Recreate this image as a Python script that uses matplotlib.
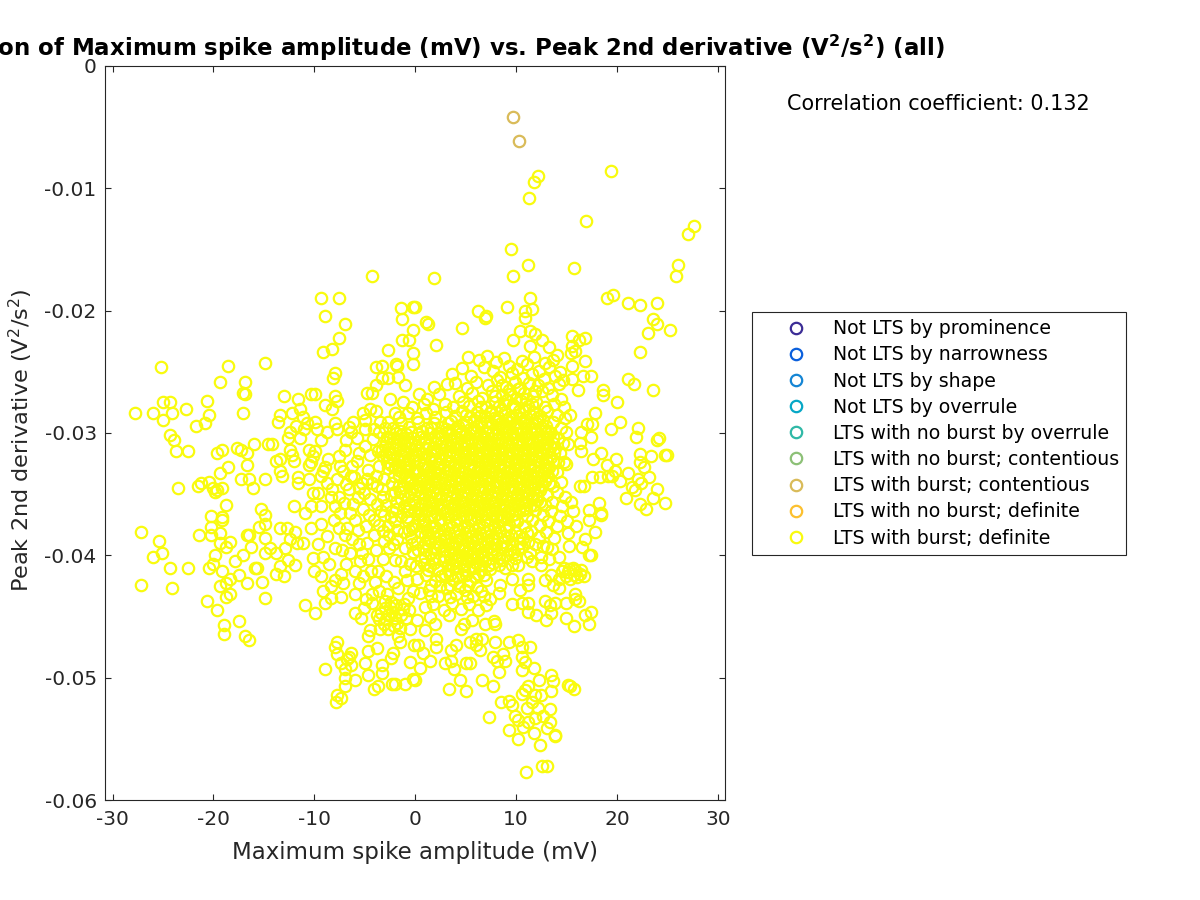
#!/usr/bin/env python
# -*- coding: utf-8 -*-
import numpy as np
import matplotlib
matplotlib.use('Agg')
import matplotlib.pyplot as plt

labels = ['Not LTS by prominence', 'Not LTS by narrowness', 'Not LTS by shape',
          'Not LTS by overrule', 'LTS with no burst by overrule',
          'LTS with no burst; contentious', 'LTS with burst; contentious',
          'LTS with no burst; definite', 'LTS with burst; definite']
colors = ['#3B2C95', '#0A5FDC', '#1485D4', '#06A7C6', '#2FB8A6',
          '#8CC076', '#D9BB59', '#FCC02E', '#F9FB0E']

contentious = [(9.7, -0.0042), (10.3, -0.0061)]

# sparse points around the edge of the cloud, upper right
upper_right = [
    (12.2, -0.0090), (11.8, -0.0095), (11.3, -0.0108), (19.4, -0.0086), (16.9, -0.0127),
    (27.6, -0.0131), (27.0, -0.0137), (9.5, -0.0150), (11.2, -0.0163), (9.7, -0.0172),
    (15.7, -0.0165), (26.0, -0.0163), (25.8, -0.0172), (1.9, -0.0173), (11.4, -0.0190),
    (11.6, -0.0199), (10.9, -0.0200), (10.9, -0.0206), (9.1, -0.0197), (6.2, -0.0200),
    (7.0, -0.0204), (6.9, -0.0206), (19.0, -0.0190), (19.6, -0.0187), (21.1, -0.0194),
    (22.3, -0.0195), (24.0, -0.0194), (23.6, -0.0207), (24.0, -0.0211), (23.1, -0.0218),
    (25.2, -0.0216), (4.6, -0.0214), (2.1, -0.0228), (1.1, -0.0209), (1.3, -0.0211),
    (0.0, -0.0197), (9.7, -0.0224), (10.4, -0.0217), (11.4, -0.0217), (11.9, -0.0219),
    (12.6, -0.0224), (11.4, -0.0229), (13.3, -0.0230), (14.0, -0.0236), (15.5, -0.0221),
    (16.2, -0.0224), (16.8, -0.0222), (15.5, -0.0229), (15.8, -0.0233), (15.4, -0.0235),
    (15.5, -0.0245), (16.8, -0.0241), (16.6, -0.0253), (17.4, -0.0253), (15.5, -0.0256),
    (16.1, -0.0265), (22.3, -0.0234), (21.1, -0.0256), (21.7, -0.0260), (23.6, -0.0265),
    (18.6, -0.0265), (18.6, -0.0269), (20.0, -0.0275), (17.8, -0.0284), (20.3, -0.0291),
    (19.4, -0.0297), (17.5, -0.0293), (17.0, -0.0293), (16.4, -0.0299), (17.4, -0.0303),
    (15.3, -0.0285), (22.1, -0.0296), (21.9, -0.0303), (24.2, -0.0304), (24.0, -0.0306),
    (18.4, -0.0316), (17.6, -0.0321), (19.9, -0.0321), (19.0, -0.0326), (19.8, -0.0331),
    (22.3, -0.0317), (23.4, -0.0319), (22.3, -0.0324), (22.7, -0.0328), (24.8, -0.0318),
    (25.0, -0.0318), (16.4, -0.0315), (16.3, -0.0308), (15.1, -0.0309), (14.9, -0.0299),
    (14.7, -0.0324), (14.9, -0.0325), (17.5, -0.0336), (18.3, -0.0336), (19.1, -0.0335),
    (19.5, -0.0335), (20.3, -0.0339), (21.1, -0.0333), (23.2, -0.0336), (22.1, -0.0338),
    (21.5, -0.0344), (22.4, -0.0341), (21.8, -0.0347), (24.0, -0.0346), (20.9, -0.0353),
    (23.6, -0.0353), (22.3, -0.0358), (22.9, -0.0362), (24.8, -0.0357), (18.2, -0.0357),
    (17.2, -0.0363), (18.4, -0.0365), (16.7, -0.0343), (16.3, -0.0343),
]

upper_left = [
    (-4.3, -0.0172), (-9.3, -0.0190), (-7.6, -0.0190), (-8.9, -0.0204), (-7.0, -0.0211),
    (-1.4, -0.0198), (-0.2, -0.0197), (-1.3, -0.0207), (-7.6, -0.0222), (-8.3, -0.0231),
    (-9.1, -0.0234), (-1.3, -0.0224), (-0.6, -0.0224), (-0.2, -0.0216), (-2.7, -0.0232),
    (-0.2, -0.0235), (-14.9, -0.0243), (-18.6, -0.0245), (-25.2, -0.0246), (-3.9, -0.0246),
    (-3.3, -0.0245), (-1.9, -0.0244), (-1.8, -0.0245), (-0.2, -0.0244), (-8.0, -0.0251),
    (-8.2, -0.0255), (-19.4, -0.0258), (-16.9, -0.0258), (-17.1, -0.0267), (-16.9, -0.0268),
    (-13.0, -0.0270), (-11.6, -0.0272), (-10.3, -0.0268), (-9.9, -0.0268), (-8.0, -0.0270),
    (-7.8, -0.0274), (-8.9, -0.0277), (-8.3, -0.0280), (-20.6, -0.0274), (-25.0, -0.0275),
    (-24.3, -0.0275), (-22.7, -0.0280), (-27.8, -0.0284), (-26.0, -0.0284), (-24.1, -0.0284),
    (-25.0, -0.0289), (-20.4, -0.0285), (-20.8, -0.0292), (-21.7, -0.0294), (-17.1, -0.0284),
    (-24.3, -0.0302), (-23.9, -0.0306), (-23.7, -0.0315), (-22.5, -0.0315), (-13.4, -0.0285),
    (-13.6, -0.0291), (-12.2, -0.0284), (-11.4, -0.0280), (-11.1, -0.0287), (-11.8, -0.0294),
    (-10.7, -0.0292), (-9.9, -0.0291), (-11.0, -0.0297), (-9.7, -0.0297), (-12.4, -0.0299),
    (-12.6, -0.0304), (-11.4, -0.0304), (-9.3, -0.0306), (-8.7, -0.0299), (-8.0, -0.0292),
    (-7.8, -0.0297), (-6.4, -0.0299), (-6.6, -0.0295), (-6.2, -0.0291), (-5.2, -0.0284),
    (-4.5, -0.0280), (-3.9, -0.0282), (-5.0, -0.0289), (-5.0, -0.0297), (-4.1, -0.0297),
    (-3.5, -0.0291), (-2.7, -0.0291), (-2.0, -0.0284), (-4.8, -0.0267), (-4.3, -0.0267),
    (-3.9, -0.0261), (-3.3, -0.0255), (-2.7, -0.0255), (-1.7, -0.0254), (-1.0, -0.0261),
    (-2.5, -0.0272), (-1.2, -0.0275), (-16.0, -0.0309), (-17.7, -0.0312), (-17.3, -0.0314),
    (-16.7, -0.0316), (-19.6, -0.0316), (-19.2, -0.0314), (-14.6, -0.0309), (-14.2, -0.0309),
    (-12.4, -0.0314), (-12.2, -0.0318), (-12.0, -0.0323), (-13.4, -0.0321), (-13.8, -0.0323),
    (-13.4, -0.0331), (-13.2, -0.0335), (-10.5, -0.0314), (-9.9, -0.0315), (-10.1, -0.0319),
    (-10.3, -0.0324), (-10.5, -0.0326), (-9.1, -0.0331), (-9.3, -0.0335), (-10.5, -0.0338),
    (-11.6, -0.0336), (-11.6, -0.0341), (-16.7, -0.0326), (-18.6, -0.0328), (-19.4, -0.0333),
    (-17.3, -0.0338), (-16.5, -0.0338), (-16.1, -0.0345), (-14.9, -0.0338), (-23.5, -0.0345),
    (-21.5, -0.0343), (-21.2, -0.0341), (-20.4, -0.0340), (-20.0, -0.0345), (-19.2, -0.0345),
    (-19.8, -0.0348), (-19.6, -0.0347), (-18.8, -0.0359), (-15.3, -0.0362), (-14.9, -0.0367),
    (-20.2, -0.0368), (-19.2, -0.0369), (-12.0, -0.0360), (-7.6, -0.0319), (-7.0, -0.0314),
    (-5.6, -0.0316), (-7.2, -0.0331), (-6.3, -0.0327), (-4.5, -0.0318), (-3.7, -0.0315),
    (-10.1, -0.0349), (-9.6, -0.0349), (-10.3, -0.0360), (-10.9, -0.0365), (-8.3, -0.0346),
    (-7.6, -0.0352), (-6.6, -0.0346), (-5.7, -0.0352), (-9.3, -0.0360), (-8.0, -0.0360),
    (-6.5, -0.0365), (-4.7, -0.0330), (-4.3, -0.0341), (-5.3, -0.0341), (-3.3, -0.0346),
    (-2.3, -0.0341),
]

lower_left = [
    (-27.2, -0.0381), (-25.4, -0.0388), (-25.1, -0.0398), (-26.0, -0.0401), (-24.3, -0.0410),
    (-22.5, -0.0410), (-27.2, -0.0424), (-24.1, -0.0427), (-21.4, -0.0383), (-20.2, -0.0383),
    (-20.2, -0.0377), (-19.2, -0.0371), (-19.4, -0.0382), (-16.7, -0.0383), (-16.5, -0.0383),
    (-15.5, -0.0377), (-14.9, -0.0374), (-19.4, -0.0390), (-18.4, -0.0389), (-18.8, -0.0393),
    (-16.3, -0.0393), (-14.9, -0.0386), (-19.8, -0.0400), (-17.1, -0.0400), (-17.9, -0.0405),
    (-20.0, -0.0407), (-20.4, -0.0410), (-19.2, -0.0413), (-17.5, -0.0416), (-18.4, -0.0419),
    (-19.4, -0.0425), (-18.8, -0.0423), (-16.7, -0.0423), (-15.2, -0.0422), (-18.4, -0.0432),
    (-18.8, -0.0434), (-20.6, -0.0437), (-19.6, -0.0445), (-14.9, -0.0435), (-17.5, -0.0454),
    (-19.0, -0.0457), (-19.0, -0.0464), (-16.9, -0.0466), (-16.5, -0.0469), (-15.7, -0.0410),
    (-15.9, -0.0410), (-14.9, -0.0398), (-14.4, -0.0394), (-13.8, -0.0398), (-13.4, -0.0378),
    (-12.7, -0.0378), (-11.9, -0.0381), (-12.4, -0.0387), (-11.7, -0.0390), (-11.1, -0.0390),
    (-12.9, -0.0394), (-13.4, -0.0409), (-13.8, -0.0415), (-13.0, -0.0417), (-11.9, -0.0408),
    (-12.6, -0.0404), (-10.3, -0.0378), (-9.3, -0.0374), (-9.6, -0.0391), (-10.1, -0.0402),
    (-9.1, -0.0401), (-10.0, -0.0413), (-9.3, -0.0417), (-8.5, -0.0407), (-8.0, -0.0420),
    (-8.4, -0.0425), (-9.1, -0.0429), (-8.4, -0.0435), (-8.9, -0.0439), (-7.4, -0.0434),
    (-10.9, -0.0441), (-9.9, -0.0447), (-6.0, -0.0432), (-6.0, -0.0447), (-5.4, -0.0451),
    (-6.0, -0.0413), (-5.2, -0.0417), (-7.3, -0.0396), (-8.0, -0.0394), (-6.3, -0.0387),
    (-5.7, -0.0379), (-7.6, -0.0378), (-6.8, -0.0378), (-7.8, -0.0471), (-8.0, -0.0475),
    (-7.8, -0.0481), (-6.4, -0.0480), (-6.6, -0.0483), (-6.8, -0.0485), (-7.4, -0.0488),
    (-6.4, -0.0490), (-8.9, -0.0493), (-7.0, -0.0493), (-7.0, -0.0500), (-7.0, -0.0507),
    (-6.0, -0.0502), (-5.0, -0.0488), (-4.7, -0.0478), (-4.7, -0.0498), (-4.1, -0.0509),
    (-3.7, -0.0507), (-2.3, -0.0505), (-2.0, -0.0505), (-1.0, -0.0505), (-0.2, -0.0501),
    (-3.3, -0.0490), (-3.3, -0.0496), (-7.8, -0.0514), (-7.4, -0.0517), (-7.9, -0.0520),
    (-4.7, -0.0466), (-4.5, -0.0461), (-3.8, -0.0476), (-2.4, -0.0484), (-2.2, -0.0480),
    (-1.5, -0.0471), (-1.7, -0.0466), (-0.5, -0.0460), (-0.5, -0.0487), (-0.1, -0.0473),
    (-4.3, -0.0432), (-4.3, -0.0439), (-3.8, -0.0449), (-3.5, -0.0460), (-3.0, -0.0443),
    (-2.4, -0.0438), (-2.0, -0.0451), (-2.7, -0.0460), (-1.4, -0.0449), (-0.7, -0.0435),
    (-0.9, -0.0451), (-2.8, -0.0432), (-1.7, -0.0427), (-5.3, -0.0398), (-3.7, -0.0413),
    (-4.4, -0.0413), (-1.0, -0.0413), (-1.0, -0.0394), (-2.6, -0.0394), (-4.1, -0.0383),
    (-2.6, -0.0383), (-1.1, -0.0381), (-3.6, -0.0375), (-2.0, -0.0372), (-0.7, -0.0372),
    (-3.4, -0.0447), (-2.9, -0.0452), (-2.3, -0.0446), (-1.8, -0.0455), (-1.2, -0.0444),
    (-3.1, -0.0456), (-2.5, -0.0442), (-1.5, -0.0459), (-3.6, -0.0452), (-2.1, -0.0458),
    (-3.0, -0.0437), (-1.1, -0.0440), (-0.6, -0.0445), (-2.7, -0.0449), (-1.9, -0.0441),
]

lower_right = [
    (11.0, -0.0577), (12.6, -0.0572), (13.1, -0.0572), (7.3, -0.0532), (12.4, -0.0555),
    (10.2, -0.0550), (9.3, -0.0543), (13.9, -0.0547), (13.9, -0.0548), (11.8, -0.0545),
    (13.1, -0.0541), (13.4, -0.0536), (10.7, -0.0540), (9.9, -0.0531), (10.2, -0.0535),
    (11.2, -0.0536), (11.9, -0.0533), (12.7, -0.0531), (13.4, -0.0526), (11.1, -0.0525),
    (9.6, -0.0522), (9.3, -0.0519), (8.5, -0.0520), (12.2, -0.0525), (11.6, -0.0520),
    (10.6, -0.0513), (11.2, -0.0507), (11.9, -0.0514), (12.5, -0.0514), (10.9, -0.0510),
    (12.3, -0.0502), (13.5, -0.0498), (13.7, -0.0503), (13.5, -0.0511), (15.1, -0.0506),
    (15.3, -0.0507), (15.7, -0.0509), (11.8, -0.0492), (11.4, -0.0475), (10.2, -0.0469),
    (9.3, -0.0471), (10.6, -0.0475), (10.6, -0.0483), (10.9, -0.0487), (10.6, -0.0494),
    (7.9, -0.0471), (8.7, -0.0481), (8.9, -0.0486), (7.7, -0.0483), (8.1, -0.0486),
    (8.3, -0.0495), (6.6, -0.0468), (6.0, -0.0468), (5.4, -0.0471), (6.0, -0.0473),
    (6.4, -0.0477), (4.0, -0.0473), (3.5, -0.0477), (2.1, -0.0468), (2.1, -0.0475),
    (1.5, -0.0486), (0.8, -0.0480), (0.3, -0.0473), (0.5, -0.0492), (0.0, -0.0502),
    (2.9, -0.0488), (3.5, -0.0486), (3.8, -0.0493), (5.0, -0.0488), (5.4, -0.0488),
    (4.4, -0.0502), (3.3, -0.0509), (5.0, -0.0511), (6.6, -0.0502), (7.7, -0.0507),
    (17.2, -0.0456), (15.7, -0.0458), (17.4, -0.0446), (16.8, -0.0449), (14.9, -0.0451),
    (13.0, -0.0453), (12.0, -0.0449), (11.2, -0.0446), (13.5, -0.0447), (7.9, -0.0456),
    (7.8, -0.0454), (6.9, -0.0456), (4.5, -0.0460), (4.8, -0.0456), (5.6, -0.0453),
    (1.0, -0.0461), (2.0, -0.0456), (0.2, -0.0453), (1.5, -0.0450), (3.3, -0.0449),
    (9.6, -0.0440), (11.2, -0.0439), (10.6, -0.0439), (12.9, -0.0437), (13.4, -0.0441),
    (13.9, -0.0439), (14.9, -0.0439), (15.8, -0.0436), (16.2, -0.0437), (15.8, -0.0432),
    (14.2, -0.0427), (13.7, -0.0424), (12.9, -0.0420), (13.5, -0.0416), (14.5, -0.0413),
    (15.2, -0.0411), (15.8, -0.0412), (16.7, -0.0417), (16.3, -0.0415), (15.7, -0.0416),
    (14.9, -0.0417), (14.2, -0.0419), (15.3, -0.0419), (17.2, -0.0400), (17.4, -0.0400),
    (17.8, -0.0381), (16.8, -0.0387), (16.5, -0.0393), (18.4, -0.0367), (17.2, -0.0371),
    (9.6, -0.0419), (11.2, -0.0419), (11.2, -0.0424), (10.4, -0.0428), (8.4, -0.0424),
    (8.3, -0.0431), (7.4, -0.0436), (7.3, -0.0408), (8.3, -0.0408), (9.6, -0.0408),
    (12.5, -0.0408), (14.2, -0.0401), (12.5, -0.0401), (11.1, -0.0401), (15.1, -0.0414),
    (14.7, -0.0410), (15.6, -0.0410), (16.0, -0.0418), (16.4, -0.0412),
]

# dense middle of the cloud, read band by band
center = [
    (5.2, -0.0238), (6.3, -0.0240), (7.1, -0.0237), (8.0, -0.0242), (8.8, -0.0239),
    (10.6, -0.0241), (11.8, -0.0238), (12.9, -0.0243), (13.7, -0.0240), (4.6, -0.0247),
    (6.8, -0.0246), (7.7, -0.0249), (9.3, -0.0245), (10.1, -0.0248), (11.1, -0.0244),
    (12.3, -0.0249), (13.3, -0.0246), (14.3, -0.0250), (3.6, -0.0252), (5.5, -0.0253),
    (8.4, -0.0254), (9.6, -0.0251), (10.7, -0.0255), (11.6, -0.0252), (12.8, -0.0256),
    (13.9, -0.0253), (14.6, -0.0257), (1.9, -0.0262), (3.1, -0.0260), (3.9, -0.0259),
    (5.1, -0.0263), (6.0, -0.0258), (7.2, -0.0261), (8.1, -0.0257), (9.0, -0.0262),
    (9.9, -0.0258), (10.4, -0.0263), (11.3, -0.0259), (12.2, -0.0261), (13.2, -0.0263),
    (14.2, -0.0260), (0.4, -0.0268), (1.2, -0.0272), (2.4, -0.0268), (4.3, -0.0270),
    (5.6, -0.0267), (6.6, -0.0271), (7.6, -0.0266), (8.6, -0.0269), (9.3, -0.0265),
    (10.0, -0.0271), (10.8, -0.0267), (11.7, -0.0270), (12.6, -0.0266), (13.6, -0.0269),
    (14.4, -0.0272), (-0.3, -0.0279), (0.9, -0.0276), (1.8, -0.0280), (2.9, -0.0276),
    (3.7, -0.0279), (4.7, -0.0275), (5.3, -0.0278), (6.2, -0.0274), (7.0, -0.0279),
    (7.9, -0.0275), (8.3, -0.0278), (9.1, -0.0273), (9.7, -0.0277), (10.5, -0.0274),
    (11.2, -0.0278), (12.0, -0.0275), (12.9, -0.0279), (13.8, -0.0276), (14.7, -0.0279),
    (-1.6, -0.0287), (-0.7, -0.0284), (0.2, -0.0288), (1.1, -0.0284), (2.0, -0.0287),
    (3.0, -0.0283), (3.9, -0.0286), (4.6, -0.0282), (5.4, -0.0287), (6.1, -0.0283),
    (6.9, -0.0286), (7.5, -0.0282), (8.2, -0.0287), (8.9, -0.0283), (9.6, -0.0286),
    (10.3, -0.0282), (11.0, -0.0287), (11.7, -0.0283), (12.4, -0.0286), (13.1, -0.0282),
    (14.0, -0.0285), (14.8, -0.0288), (-2.2, -0.0296), (-1.4, -0.0292), (-0.6, -0.0295),
    (0.3, -0.0291), (1.2, -0.0296), (1.9, -0.0292), (2.7, -0.0295), (3.5, -0.0290),
    (4.2, -0.0294), (5.0, -0.0291), (5.8, -0.0296), (6.5, -0.0292), (7.3, -0.0295),
    (8.0, -0.0290), (8.7, -0.0294), (9.4, -0.0291), (10.1, -0.0296), (10.8, -0.0292),
    (11.5, -0.0295), (12.2, -0.0290), (13.0, -0.0294), (13.7, -0.0291), (14.4, -0.0296),
    (-2.8, -0.0303), (-1.9, -0.0300), (-1.1, -0.0304), (-0.4, -0.0299), (0.6, -0.0303),
    (1.5, -0.0300), (2.3, -0.0304), (3.1, -0.0299), (3.8, -0.0303), (4.5, -0.0300),
    (5.3, -0.0304), (6.0, -0.0299), (6.8, -0.0303), (7.6, -0.0300), (8.3, -0.0304),
    (9.0, -0.0299), (9.8, -0.0303), (10.5, -0.0300), (11.3, -0.0304), (12.0, -0.0299),
    (12.7, -0.0303), (13.4, -0.0300), (14.1, -0.0304), (-3.0, -0.0311), (-2.2, -0.0308),
    (-1.5, -0.0312), (-0.8, -0.0307), (0.1, -0.0311), (1.0, -0.0308), (1.8, -0.0312),
    (2.6, -0.0307), (3.4, -0.0311), (4.1, -0.0308), (4.9, -0.0312), (5.6, -0.0307),
    (6.4, -0.0311), (7.2, -0.0308), (7.9, -0.0312), (8.6, -0.0307), (9.3, -0.0311),
    (10.1, -0.0308), (10.9, -0.0312), (11.6, -0.0307), (12.3, -0.0311), (13.1, -0.0308),
    (13.9, -0.0312), (14.6, -0.0308), (-3.2, -0.0319), (-2.5, -0.0316), (-1.8, -0.0320),
    (-1.0, -0.0315), (-0.2, -0.0319), (0.7, -0.0316), (1.4, -0.0320), (2.2, -0.0315),
    (3.0, -0.0319), (3.7, -0.0316), (4.4, -0.0320), (5.2, -0.0315), (6.0, -0.0319),
    (6.7, -0.0316), (7.5, -0.0320), (8.2, -0.0315), (9.0, -0.0319), (9.7, -0.0316),
    (10.5, -0.0320), (11.2, -0.0315), (12.0, -0.0319), (12.7, -0.0316), (13.5, -0.0320),
    (14.3, -0.0316), (-3.6, -0.0327), (-2.8, -0.0324), (-2.0, -0.0328), (-1.2, -0.0323),
    (-0.5, -0.0327), (0.4, -0.0324), (1.2, -0.0328), (2.0, -0.0323), (2.8, -0.0327),
    (3.5, -0.0324), (4.3, -0.0328), (5.0, -0.0323), (5.8, -0.0327), (6.6, -0.0324),
    (7.3, -0.0328), (8.0, -0.0323), (8.8, -0.0327), (9.5, -0.0324), (10.3, -0.0328),
    (11.0, -0.0323), (11.8, -0.0327), (12.5, -0.0324), (13.3, -0.0328), (14.1, -0.0324),
    (-2.1, -0.0335), (-1.3, -0.0332), (-0.5, -0.0336), (0.3, -0.0331), (1.1, -0.0335),
    (1.9, -0.0332), (2.7, -0.0336), (3.4, -0.0331), (4.2, -0.0335), (4.9, -0.0332),
    (5.7, -0.0336), (6.5, -0.0331), (7.2, -0.0335), (8.0, -0.0332), (8.7, -0.0336),
    (9.5, -0.0331), (10.2, -0.0335), (11.0, -0.0332), (11.8, -0.0336), (12.5, -0.0331),
    (13.2, -0.0335), (14.0, -0.0332), (-1.6, -0.0343), (-0.8, -0.0340), (0.0, -0.0344),
    (0.8, -0.0339), (1.6, -0.0343), (2.4, -0.0340), (3.1, -0.0344), (3.9, -0.0339),
    (4.6, -0.0343), (5.4, -0.0340), (6.2, -0.0344), (6.9, -0.0339), (7.7, -0.0343),
    (8.4, -0.0340), (9.2, -0.0344), (9.9, -0.0339), (10.7, -0.0343), (11.5, -0.0340),
    (12.2, -0.0344), (12.9, -0.0339), (13.7, -0.0343), (14.4, -0.0340), (-2.4, -0.0351),
    (-1.5, -0.0348), (-0.7, -0.0352), (0.2, -0.0347), (1.0, -0.0351), (1.8, -0.0348),
    (2.6, -0.0352), (3.3, -0.0347), (4.1, -0.0351), (4.9, -0.0348), (5.6, -0.0352),
    (6.4, -0.0347), (7.1, -0.0351), (7.9, -0.0348), (8.6, -0.0352), (9.4, -0.0347),
    (10.1, -0.0351), (10.9, -0.0348), (11.7, -0.0352), (12.4, -0.0347), (13.1, -0.0351),
    (14.0, -0.0348), (14.8, -0.0352), (-2.9, -0.0359), (-1.9, -0.0356), (-1.1, -0.0360),
    (-0.2, -0.0355), (0.6, -0.0359), (1.4, -0.0356), (2.2, -0.0360), (3.0, -0.0355),
    (3.8, -0.0359), (4.5, -0.0356), (5.3, -0.0360), (6.1, -0.0355), (6.8, -0.0359),
    (7.6, -0.0356), (8.3, -0.0360), (9.1, -0.0355), (9.8, -0.0359), (10.6, -0.0356),
    (11.4, -0.0360), (12.1, -0.0355), (12.9, -0.0359), (13.6, -0.0356), (14.5, -0.0360),
    (15.4, -0.0356), (-3.1, -0.0367), (-2.3, -0.0364), (-1.4, -0.0368), (-0.6, -0.0363),
    (0.3, -0.0367), (1.1, -0.0364), (1.9, -0.0368), (2.7, -0.0363), (3.5, -0.0367),
    (4.3, -0.0364), (5.0, -0.0368), (5.8, -0.0363), (6.5, -0.0367), (7.3, -0.0364),
    (8.1, -0.0368), (8.8, -0.0363), (9.6, -0.0367), (10.3, -0.0364), (11.1, -0.0368),
    (11.9, -0.0363), (12.7, -0.0367), (13.5, -0.0364), (14.3, -0.0368), (15.6, -0.0364),
    (-2.7, -0.0376), (0.0, -0.0375), (0.9, -0.0372), (1.7, -0.0376), (2.5, -0.0371),
    (3.3, -0.0375), (4.0, -0.0372), (4.8, -0.0376), (5.5, -0.0371), (6.3, -0.0375),
    (7.1, -0.0372), (7.8, -0.0376), (8.6, -0.0371), (9.3, -0.0375), (10.1, -0.0372),
    (10.9, -0.0376), (11.6, -0.0371), (12.4, -0.0375), (13.2, -0.0372), (14.0, -0.0376),
    (15.0, -0.0372), (15.9, -0.0376), (-1.8, -0.0387), (-0.4, -0.0385), (0.5, -0.0381),
    (1.3, -0.0386), (2.2, -0.0380), (3.0, -0.0385), (3.8, -0.0381), (4.6, -0.0386),
    (5.3, -0.0380), (6.1, -0.0385), (6.9, -0.0381), (7.6, -0.0386), (8.4, -0.0380),
    (9.2, -0.0385), (9.9, -0.0381), (10.7, -0.0386), (11.5, -0.0380), (12.3, -0.0385),
    (13.0, -0.0381), (13.8, -0.0386), (15.1, -0.0382), (-0.2, -0.0397), (0.8, -0.0393),
    (1.6, -0.0398), (2.5, -0.0392), (3.4, -0.0397), (4.2, -0.0393), (5.0, -0.0398),
    (5.8, -0.0392), (6.6, -0.0397), (7.4, -0.0393), (8.1, -0.0398), (9.0, -0.0392),
    (9.8, -0.0397), (10.6, -0.0393), (11.4, -0.0398), (13.1, -0.0393), (15.2, -0.0392),
    (-0.5, -0.0407), (0.6, -0.0404), (1.5, -0.0409), (2.4, -0.0403), (3.2, -0.0408),
    (4.0, -0.0404), (4.8, -0.0409), (5.6, -0.0403), (6.4, -0.0408), (0.2, -0.0419),
    (1.1, -0.0416), (2.0, -0.0421), (2.9, -0.0415), (3.7, -0.0420), (4.6, -0.0416),
    (5.4, -0.0421), (6.2, -0.0415), (7.0, -0.0420), (0.5, -0.0431), (1.4, -0.0428),
    (2.3, -0.0433), (3.1, -0.0427), (4.0, -0.0432), (4.9, -0.0428), (5.7, -0.0433),
    (6.5, -0.0429), (1.0, -0.0442), (1.8, -0.0440), (2.8, -0.0445), (3.6, -0.0439),
    (4.5, -0.0444), (5.3, -0.0440), (6.2, -0.0445), (7.0, -0.0441),
]

# the solid part, where single rings can no longer be told apart
solid_core = [
    (8.6, -0.0261), (9.4, -0.0268), (10.2, -0.0264), (11.0, -0.0272), (11.9, -0.0266),
    (7.9, -0.0270), (8.8, -0.0276), (9.9, -0.0279), (10.9, -0.0280), (11.6, -0.0276),
    (6.5, -0.0279), (7.4, -0.0284), (8.5, -0.0281), (9.3, -0.0288), (10.0, -0.0285),
    (10.7, -0.0290), (11.4, -0.0285), (12.1, -0.0288), (5.0, -0.0285), (5.8, -0.0289),
    (6.4, -0.0286), (7.1, -0.0290), (7.8, -0.0288), (8.5, -0.0292), (9.1, -0.0289),
    (9.9, -0.0293), (10.5, -0.0288), (11.2, -0.0293), (12.0, -0.0292), (12.7, -0.0289),
    (3.2, -0.0292), (4.0, -0.0296), (4.7, -0.0293), (5.4, -0.0297), (6.1, -0.0294),
    (6.9, -0.0298), (7.6, -0.0293), (8.2, -0.0297), (9.0, -0.0295), (9.6, -0.0299),
    (10.4, -0.0296), (11.0, -0.0299), (11.8, -0.0297), (12.5, -0.0295), (13.2, -0.0298),
    (0.7, -0.0298), (1.6, -0.0296), (2.3, -0.0300), (3.0, -0.0297), (3.5, -0.0301),
    (4.3, -0.0298), (5.0, -0.0302), (5.7, -0.0299), (6.4, -0.0302), (7.1, -0.0300),
    (7.9, -0.0302), (8.6, -0.0300), (9.4, -0.0302), (10.1, -0.0300), (10.8, -0.0303),
    (11.6, -0.0300), (12.3, -0.0303), (13.0, -0.0300), (13.7, -0.0303), (-1.5, -0.0298),
    (-0.9, -0.0301), (-0.2, -0.0304), (0.3, -0.0301), (1.0, -0.0304), (1.9, -0.0303),
    (2.7, -0.0302), (3.4, -0.0306), (4.1, -0.0304), (4.8, -0.0307), (5.5, -0.0305),
    (6.2, -0.0307), (6.9, -0.0305), (7.5, -0.0307), (8.2, -0.0305), (8.9, -0.0308),
    (9.6, -0.0305), (10.3, -0.0307), (11.0, -0.0305), (11.7, -0.0308), (12.4, -0.0306),
    (13.1, -0.0305), (13.7, -0.0308), (-2.5, -0.0304), (-1.6, -0.0305), (-1.1, -0.0308),
    (-0.4, -0.0309), (0.4, -0.0307), (1.3, -0.0310), (2.1, -0.0308), (2.9, -0.0311),
    (3.7, -0.0309), (4.5, -0.0311), (5.2, -0.0309), (5.9, -0.0312), (6.6, -0.0309),
    (7.4, -0.0311), (8.1, -0.0309), (8.8, -0.0312), (9.6, -0.0309), (10.4, -0.0311),
    (11.2, -0.0309), (11.9, -0.0312), (12.7, -0.0309), (13.4, -0.0311), (-2.7, -0.0313),
    (-1.9, -0.0310), (-1.2, -0.0314), (-0.5, -0.0312), (0.3, -0.0314), (1.1, -0.0312),
    (1.9, -0.0315), (2.6, -0.0313), (3.4, -0.0315), (4.2, -0.0313), (4.9, -0.0316),
    (5.6, -0.0314), (6.3, -0.0316), (7.1, -0.0314), (7.9, -0.0316), (8.6, -0.0314),
    (9.3, -0.0316), (10.1, -0.0314), (10.8, -0.0316), (11.6, -0.0314), (12.4, -0.0316),
    (13.1, -0.0314), (13.8, -0.0316), (-2.9, -0.0318), (-2.2, -0.0321), (-1.4, -0.0318),
    (-0.7, -0.0321), (0.1, -0.0318), (0.9, -0.0320), (1.7, -0.0318), (2.5, -0.0321),
    (3.3, -0.0318), (4.0, -0.0320), (4.8, -0.0318), (5.5, -0.0321), (6.3, -0.0319),
    (7.0, -0.0321), (7.8, -0.0318), (8.5, -0.0321), (9.3, -0.0319), (10.0, -0.0321),
    (10.8, -0.0318), (11.5, -0.0321), (12.3, -0.0319), (13.0, -0.0321), (-2.4, -0.0326),
    (-1.6, -0.0323), (-0.9, -0.0325), (-0.1, -0.0323), (0.8, -0.0326), (1.6, -0.0323),
    (2.4, -0.0325), (3.2, -0.0323), (3.9, -0.0326), (4.7, -0.0324), (5.4, -0.0326),
    (6.2, -0.0323), (6.9, -0.0325), (7.7, -0.0323), (8.4, -0.0326), (9.2, -0.0323),
    (9.9, -0.0325), (10.7, -0.0323), (11.4, -0.0326), (12.2, -0.0323), (12.9, -0.0326),
    (13.7, -0.0323), (-1.7, -0.0330), (-0.9, -0.0328), (-0.1, -0.0331), (0.8, -0.0329),
    (1.5, -0.0331), (2.3, -0.0328), (3.1, -0.0330), (3.8, -0.0328), (4.6, -0.0331),
    (5.3, -0.0329), (6.1, -0.0331), (6.9, -0.0328), (7.6, -0.0330), (8.3, -0.0328),
    (9.1, -0.0331), (9.9, -0.0329), (10.6, -0.0331), (11.4, -0.0328), (12.1, -0.0331),
    (12.9, -0.0329), (13.6, -0.0331), (-0.9, -0.0335), (0.0, -0.0333), (0.7, -0.0336),
    (1.5, -0.0334), (2.3, -0.0333), (3.0, -0.0335), (3.8, -0.0333), (4.5, -0.0336),
    (5.3, -0.0334), (6.1, -0.0336), (6.8, -0.0333), (7.6, -0.0336), (8.3, -0.0334),
    (9.1, -0.0336), (9.8, -0.0333), (10.6, -0.0336), (11.4, -0.0334), (12.1, -0.0336),
    (12.8, -0.0333), (-0.4, -0.0340), (0.4, -0.0338), (1.2, -0.0340), (2.0, -0.0338),
    (2.8, -0.0341), (3.5, -0.0339), (4.3, -0.0341), (5.0, -0.0338), (5.8, -0.0340),
    (6.5, -0.0338), (7.3, -0.0341), (8.0, -0.0339), (8.8, -0.0341), (9.5, -0.0338),
    (10.3, -0.0340), (11.1, -0.0338), (11.8, -0.0341), (12.5, -0.0339), (13.3, -0.0341),
    (-0.3, -0.0346), (0.4, -0.0343), (1.2, -0.0346), (2.0, -0.0344), (2.8, -0.0346),
    (3.5, -0.0343), (4.3, -0.0346), (5.0, -0.0344), (5.8, -0.0346), (6.5, -0.0343),
    (7.3, -0.0346), (8.0, -0.0344), (8.8, -0.0346), (9.6, -0.0343), (10.3, -0.0346),
    (11.1, -0.0344), (11.8, -0.0346), (12.6, -0.0343), (-0.1, -0.0350), (0.6, -0.0348),
    (1.4, -0.0351), (2.2, -0.0349), (3.0, -0.0351), (3.7, -0.0348), (4.5, -0.0351),
    (5.2, -0.0349), (6.0, -0.0351), (6.7, -0.0348), (7.5, -0.0351), (8.2, -0.0349),
    (9.0, -0.0351), (9.7, -0.0348), (10.5, -0.0351), (11.3, -0.0349), (12.1, -0.0351),
    (0.0, -0.0356), (0.9, -0.0353), (1.7, -0.0356), (2.4, -0.0354), (3.2, -0.0356),
    (4.0, -0.0353), (4.7, -0.0356), (5.5, -0.0354), (6.3, -0.0356), (7.0, -0.0353),
    (7.8, -0.0356), (8.5, -0.0354), (9.3, -0.0356), (10.1, -0.0353), (10.9, -0.0356),
    (11.6, -0.0354), (12.4, -0.0356), (0.3, -0.0361), (1.0, -0.0358), (1.8, -0.0361),
    (2.6, -0.0359), (3.4, -0.0361), (4.2, -0.0358), (4.9, -0.0361), (5.7, -0.0359),
    (6.4, -0.0361), (7.2, -0.0358), (7.9, -0.0361), (8.7, -0.0359), (9.5, -0.0361),
    (10.2, -0.0358), (11.0, -0.0361), (11.8, -0.0359), (0.6, -0.0366), (1.4, -0.0363),
    (2.2, -0.0366), (3.0, -0.0364), (3.8, -0.0366), (4.6, -0.0363), (5.3, -0.0366),
    (6.1, -0.0364), (6.9, -0.0366), (7.6, -0.0363), (8.4, -0.0366), (9.2, -0.0364),
    (9.9, -0.0366), (10.7, -0.0363), (0.8, -0.0371), (1.6, -0.0368), (2.4, -0.0371),
    (3.2, -0.0369), (4.0, -0.0371), (4.7, -0.0368), (5.4, -0.0371), (6.1, -0.0369),
    (6.9, -0.0371), (7.7, -0.0368), (8.4, -0.0371), (9.1, -0.0369), (9.8, -0.0371),
    (1.2, -0.0379), (2.0, -0.0377), (2.8, -0.0379), (3.6, -0.0377), (4.3, -0.0379),
    (5.1, -0.0377), (5.9, -0.0379), (6.7, -0.0377), (7.4, -0.0379), (8.2, -0.0377),
    (9.0, -0.0379), (2.0, -0.0389), (2.8, -0.0387), (3.6, -0.0389), (4.4, -0.0387),
    (5.2, -0.0389), (6.0, -0.0387), (6.8, -0.0389), (7.6, -0.0387), (2.9, -0.0401),
    (3.8, -0.0399), (4.6, -0.0402), (5.4, -0.0400), (6.2, -0.0401),
]

# lower half of the solid part
lower_core = [
    (-0.6, -0.0358), (-0.1, -0.0364), (0.4, -0.0370), (-0.8, -0.0369), (-0.3, -0.0378),
    (0.7, -0.0376), (1.0, -0.0383), (1.8, -0.0382), (2.5, -0.0384), (3.3, -0.0382),
    (4.1, -0.0384), (4.9, -0.0382), (5.6, -0.0384), (6.4, -0.0382), (7.2, -0.0384),
    (8.0, -0.0382), (8.8, -0.0384), (9.5, -0.0383), (10.3, -0.0384), (11.1, -0.0382),
    (0.2, -0.0389), (1.0, -0.0390), (1.5, -0.0388), (2.4, -0.0390), (3.2, -0.0391),
    (4.0, -0.0390), (4.8, -0.0392), (5.6, -0.0389), (6.4, -0.0391), (7.2, -0.0390),
    (8.0, -0.0391), (8.8, -0.0389), (9.6, -0.0391), (10.4, -0.0390), (11.2, -0.0389),
    (0.3, -0.0396), (1.1, -0.0396), (2.0, -0.0395), (2.8, -0.0396), (3.7, -0.0394),
    (4.6, -0.0396), (5.4, -0.0395), (6.2, -0.0394), (7.0, -0.0396), (7.8, -0.0395),
    (8.6, -0.0394), (9.4, -0.0396), (10.2, -0.0395), (1.0, -0.0401), (1.8, -0.0402),
    (3.5, -0.0402), (4.2, -0.0400), (5.0, -0.0402), (5.8, -0.0399), (6.7, -0.0401),
    (7.5, -0.0399), (8.3, -0.0402), (9.1, -0.0400), (9.9, -0.0402), (0.9, -0.0407),
    (1.9, -0.0406), (2.8, -0.0405), (3.6, -0.0407), (4.4, -0.0406), (5.2, -0.0405),
    (6.0, -0.0406), (6.9, -0.0405), (7.7, -0.0406), (8.6, -0.0404), (1.3, -0.0412),
    (2.3, -0.0411), (3.2, -0.0412), (4.0, -0.0410), (4.8, -0.0412), (5.7, -0.0410),
    (6.5, -0.0412), (7.4, -0.0411), (2.6, -0.0417), (3.4, -0.0416), (4.2, -0.0418),
    (5.0, -0.0416), (5.9, -0.0418), (6.8, -0.0416), (1.6, -0.0424), (2.5, -0.0425),
    (3.4, -0.0424), (4.3, -0.0425), (5.2, -0.0424), (6.1, -0.0426), (-1.4, -0.0302),
    (-2.2, -0.0304), (-2.9, -0.0307), (-2.0, -0.0313), (-2.6, -0.0320), (-1.1, -0.0319),
    (-3.3, -0.0314), (-1.7, -0.0326), (-2.7, -0.0329), (-0.9, -0.0331), (-1.6, -0.0335),
    (-0.4, -0.0338), (-1.2, -0.0345), (-2.0, -0.0348), (-0.5, -0.0349), (-1.4, -0.0354),
    (-0.8, -0.0364), (-1.9, -0.0362), (-2.4, -0.0369), (-0.6, -0.0379), (1.6, -0.0433),
    (3.4, -0.0434), (5.1, -0.0434), (6.8, -0.0433), (8.9, -0.0410), (10.2, -0.0408),
    (11.9, -0.0391), (12.7, -0.0392), (13.6, -0.0395), (11.6, -0.0405), (13.3, -0.0403),
]

# rings left of the core, between about -9 and -3
left_of_core = [
    (-8.7, -0.0341), (-7.8, -0.0338), (-6.9, -0.0342), (-6.1, -0.0336), (-5.6, -0.0345),
    (-4.8, -0.0338), (-3.9, -0.0335), (-3.1, -0.0338), (-8.4, -0.0352), (-7.1, -0.0357),
    (-6.2, -0.0358), (-5.1, -0.0349), (-4.5, -0.0354), (-3.8, -0.0343), (-3.2, -0.0352),
    (-7.5, -0.0365), (-6.0, -0.0371), (-5.2, -0.0362), (-4.6, -0.0367), (-3.8, -0.0358),
    (-3.4, -0.0364), (-8.1, -0.0371), (-7.0, -0.0383), (-5.6, -0.0391), (-4.9, -0.0376),
    (-4.1, -0.0371), (-3.2, -0.0380), (-8.7, -0.0384), (-6.5, -0.0398), (-4.8, -0.0390),
    (-3.9, -0.0396), (-3.1, -0.0388), (-2.2, -0.0391), (-6.9, -0.0407), (-5.5, -0.0405),
    (-4.7, -0.0403), (-3.2, -0.0403), (-2.0, -0.0404), (-7.4, -0.0415), (-5.6, -0.0423),
    (-4.0, -0.0422), (-2.9, -0.0417), (-2.1, -0.0422), (-1.4, -0.0405), (-1.8, -0.0379),
    (-0.3, -0.0391), (-0.8, -0.0420), (0.1, -0.0409), (-0.2, -0.0429), (-3.6, -0.0429),
    (-4.9, -0.0436), (-5.1, -0.0443), (-7.2, -0.0423), (-6.4, -0.0335), (-5.8, -0.0323),
    (-5.0, -0.0311), (-4.2, -0.0305), (-3.6, -0.0299), (-3.0, -0.0296), (-6.9, -0.0306),
    (-5.8, -0.0304), (-7.5, -0.0327), (-8.6, -0.0321), (-8.9, -0.0328),
]

definite = (upper_right + upper_left + lower_left + lower_right + center
            + solid_core + lower_core + left_of_core)
definite_x = np.array([p[0] for p in definite])
definite_y = np.array([p[1] for p in definite])
contentious_x = [p[0] for p in contentious]
contentious_y = [p[1] for p in contentious]

xticks = [-30, -20, -10, 0, 10, 20, 30]
xtick_labels = ['-30', '-20', '-10', '0', '10', '20', '30']
yticks = [0, -0.01, -0.02, -0.03, -0.04, -0.05, -0.06]
ytick_labels = ['0', '-0.01', '-0.02', '-0.03', '-0.04', '-0.05', '-0.06']
grey = '#262626'

plt.rcParams['mathtext.default'] = 'regular'
fig = plt.figure(figsize=(12, 9), dpi=100)
ax = fig.add_axes([105 / 1200, 1 - 800 / 900, 620 / 1200, 734 / 900])

marker = dict(linestyle='none', marker='o', markersize=8.2, markeredgewidth=1.6,
              markerfacecolor='none')
for lab, col in zip(labels, colors):
    if lab == 'LTS with burst; definite':
        ax.plot(definite_x, definite_y, color=col, label=lab, **marker)
    elif lab == 'LTS with burst; contentious':
        ax.plot(contentious_x, contentious_y, color=col, label=lab, **marker)
    else:
        ax.plot([], [], color=col, label=lab, **marker)

ax.set_xlim(-30.75, 30.7)
ax.set_ylim(-0.06, 0)
ax.set_xticks(xticks)
ax.set_xticklabels(xtick_labels)
ax.set_yticks(yticks)
ax.set_yticklabels(ytick_labels)
ax.tick_params(direction='in', top=True, right=True, length=4.5, width=0.8,
               labelsize=14.5, colors=grey)
ax.tick_params(axis='x', pad=7)
ax.tick_params(axis='y', pad=6)
for s in ax.spines.values():
    s.set_linewidth(0.8)
    s.set_color(grey)
ax.set_xlabel('Maximum spike amplitude (mV)', fontsize=16.5, color=grey, labelpad=9)
ax.set_ylabel('Peak 2nd derivative (V$^2$/s$^2$)', fontsize=16.1, color=grey, labelpad=7, y=0.49)
ax.set_title('Correlation of Maximum spike amplitude (mV) vs. Peak 2nd derivative (V$^{\\mathbf{2}}$/s$^{\\mathbf{2}}$) (all)',
             fontsize=16.45, fontweight='bold', color='black', pad=7)

fig.text(787 / 1200, 1 - 104 / 900, 'Correlation coefficient: 0.132', fontsize=14.95,
         va='center', ha='left', color='black')

leg = ax.legend(loc='upper left', bbox_to_anchor=(752 / 1200, 1 - 312 / 900),
                bbox_transform=fig.transFigure, fontsize=13.6, frameon=True,
                fancybox=False, framealpha=1, edgecolor=grey, borderaxespad=0,
                borderpad=0.38, labelspacing=0.38, handlelength=3.85, handletextpad=0.05)
leg.get_frame().set_linewidth(0.8)

fig.savefig('out.png', dpi=100)
